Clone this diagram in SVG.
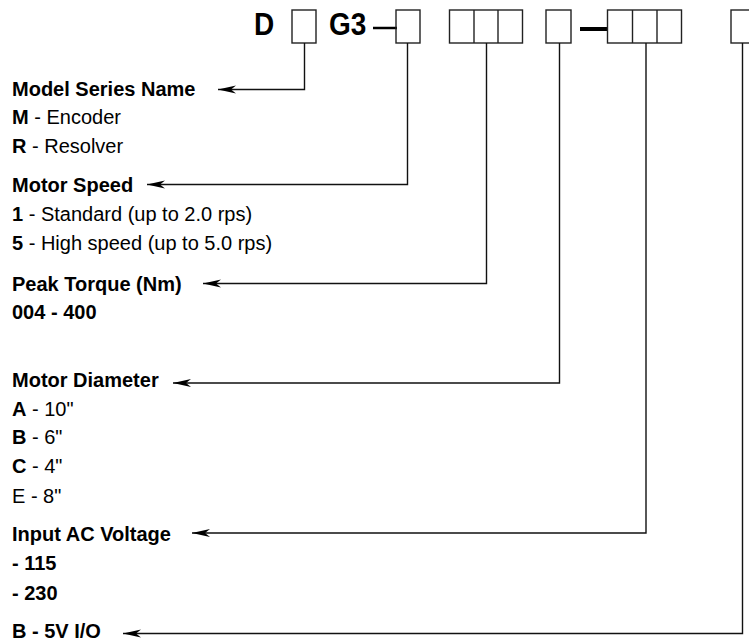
<svg xmlns="http://www.w3.org/2000/svg" width="749" height="641" viewBox="0 0 749 641">
<style>
.t{font-family:"Liberation Sans",Arial,sans-serif;font-size:20px;fill:#000}
.b{font-weight:bold}
.h{font-family:"Liberation Sans",Arial,sans-serif;font-size:28px;font-weight:bold;fill:#000}
.box{fill:none;stroke:#222;stroke-width:1.4}
.c{fill:none;stroke:#111;stroke-width:1.4}
.dash{stroke:#000}
</style>
<defs>
<marker id="ah" markerUnits="userSpaceOnUse" markerWidth="20" markerHeight="10" viewBox="-19 -5 20 10" refX="0" refY="0" orient="auto">
<path d="M0,0 L-18,-4 L-13,0 L-18,4 Z" fill="#000"/>
</marker>
</defs>
<rect width="749" height="641" fill="#fff"/>
<g id="code">
<text class="h" x="254" y="35" transform="translate(0,-3.5) scale(1,1.1)">D</text>
<text class="h" x="329" y="35" transform="translate(0,-3.5) scale(1,1.1)">G3</text>
<line class="dash" x1="373" y1="28" x2="397" y2="28" stroke-width="2.5"/>
<line class="dash" x1="580" y1="29" x2="607" y2="29" stroke-width="4"/>
<g id="box1"><rect class="box" x="292" y="10" width="24" height="33"/></g>
<g id="box2"><rect class="box" x="396" y="10" width="24" height="33"/></g>
<g id="box3"><rect class="box" x="449.5" y="10" width="73" height="33"/><line class="box" x1="474" y1="10" x2="474" y2="43"/><line class="box" x1="498" y1="10" x2="498" y2="43"/></g>
<g id="box4"><rect class="box" x="546" y="10" width="25" height="33"/></g>
<g id="box5"><rect class="box" x="607.5" y="10" width="74" height="33"/><line class="box" x1="632.5" y1="10" x2="632.5" y2="43"/><line class="box" x1="657" y1="10" x2="657" y2="43"/></g>
<g id="box6"><rect class="box" x="731" y="10" width="24" height="33"/></g>
</g>
<g id="connectors">
<path class="c" d="M304.5,43 V89.5 H218" marker-end="url(#ah)"/>
<path class="c" d="M407.5,43 V184.5 H147" marker-end="url(#ah)"/>
<path class="c" d="M486.5,43 V283.5 H203" marker-end="url(#ah)"/>
<path class="c" d="M559.5,43 V383 H173" marker-end="url(#ah)"/>
<path class="c" d="M646,43 V533 H192" marker-end="url(#ah)"/>
<path class="c" d="M742.5,43 V633.5 H123" marker-end="url(#ah)"/>
</g>
<g id="model-series">
<text class="t b" x="12" y="96">Model Series Name</text>
<text class="t" x="12" y="124"><tspan class="b">M</tspan> - Encoder</text>
<text class="t" x="12" y="153"><tspan class="b">R</tspan> - Resolver</text>
</g>
<g id="motor-speed">
<text class="t b" x="12" y="192">Motor Speed</text>
<text class="t" x="12" y="221"><tspan class="b">1</tspan> - Standard (up to 2.0 rps)</text>
<text class="t" x="12" y="250"><tspan class="b">5</tspan> - High speed (up to 5.0 rps)</text>
</g>
<g id="peak-torque">
<text class="t b" x="12" y="291">Peak Torque (Nm)</text>
<text class="t b" x="12" y="319">004 - 400</text>
</g>
<g id="motor-diameter">
<text class="t b" x="12" y="387">Motor Diameter</text>
<text class="t" x="12" y="416"><tspan class="b">A</tspan> - 10"</text>
<text class="t" x="12" y="444"><tspan class="b">B</tspan> - 6"</text>
<text class="t" x="12" y="473"><tspan class="b">C</tspan> - 4"</text>
<text class="t" x="12" y="503">E - 8"</text>
</g>
<g id="input-ac">
<text class="t b" x="12" y="541">Input AC Voltage</text>
<text class="t b" x="12" y="570">- 115</text>
<text class="t b" x="12" y="600">- 230</text>
</g>
<g id="io">
<text class="t b" x="12" y="638">B - 5V I/O</text>
</g>
</svg>
